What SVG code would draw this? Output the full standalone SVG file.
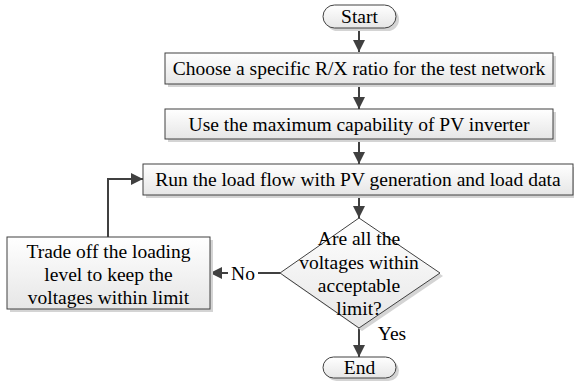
<svg xmlns="http://www.w3.org/2000/svg" width="574" height="384" viewBox="0 0 574 384" font-family="Liberation Serif, Times New Roman, DejaVu Serif, serif">
<defs>
<linearGradient id="g" x1="0" y1="0" x2="0" y2="1">
<stop offset="0" stop-color="#ffffff"/>
<stop offset="1" stop-color="#e6e6e6"/>
</linearGradient>
<marker id="ah" viewBox="0 0 10 10" refX="10" refY="5" markerWidth="6" markerHeight="6" orient="auto" markerUnits="strokeWidth">
<path d="M0,0 L10,5 L0,10 z" fill="#404040"/>
</marker>
</defs>
<style>
.n{fill:url(#g);stroke:#404040;stroke-width:1}
.s{fill:#d4d4d4;stroke:none}
.t{font-size:19.5px;fill:#000;text-anchor:middle;dominant-baseline:central}
.c{fill:none;stroke:#404040;stroke-width:2}
.a{marker-end:url(#ah)}
</style>
<rect width="574" height="384" fill="#fff"/>
<g id="connectors">
<line class="c a" x1="359" y1="28" x2="359" y2="52"/>
<line class="c a" x1="359" y1="84" x2="359" y2="109"/>
<line class="c a" x1="359" y1="140" x2="359" y2="164"/>
<line class="c a" x1="359" y1="196" x2="359" y2="218"/>
<line class="c a" x1="359" y1="328" x2="359" y2="357"/>
<line class="c" x1="280" y1="273" x2="258" y2="273"/>
<line class="c a" x1="228" y1="273" x2="210" y2="273"/>
<polyline class="c a" points="108,237 108,179 143,179"/>
<text class="t" x="243" y="273">No</text>
<text class="t" x="392" y="333">Yes</text>
</g>
<g id="start">
<rect class="s" x="326" y="8" width="73" height="23" rx="11.5"/>
<rect class="n" x="323" y="5" width="73" height="23" rx="11.5"/>
<text class="t" x="359.5" y="16.5">Start</text>
</g>
<g id="choose">
<rect class="s" x="168" y="56" width="388" height="31"/>
<rect class="n" x="165" y="53" width="388" height="31"/>
<text class="t" x="359" y="68.5">Choose a specific R/X ratio for the test network</text>
</g>
<g id="use">
<rect class="s" x="168" y="112" width="388" height="30"/>
<rect class="n" x="165" y="109" width="388" height="30"/>
<text class="t" x="359" y="124">Use the maximum capability of PV inverter</text>
</g>
<g id="run">
<rect class="s" x="146" y="167" width="431" height="31"/>
<rect class="n" x="143" y="164" width="430" height="31"/>
<text class="t" x="358" y="179.5">Run the load flow with PV generation and load data</text>
</g>
<g id="decision">
<polygon class="s" points="362,221 443,276 362,331 283,276"/>
<polygon class="n" points="359,218 440,273 359,328 280,273"/>
<text class="t" x="359" y="238">Are all the</text>
<text class="t" x="359" y="262">voltages within</text>
<text class="t" x="359" y="285">acceptable</text>
<text class="t" x="359" y="308">limit?</text>
</g>
<g id="tradeoff">
<rect class="s" x="10" y="240" width="203" height="72"/>
<rect class="n" x="7" y="237" width="203" height="72"/>
<text class="t" x="108.5" y="251">Trade off the loading</text>
<text class="t" x="108.5" y="274">level to keep the</text>
<text class="t" x="108.5" y="297">voltages within limit</text>
</g>
<g id="end">
<rect class="s" x="326" y="360" width="73" height="21" rx="10.5"/>
<rect class="n" x="323" y="357" width="73" height="21" rx="10.5"/>
<text class="t" x="359.5" y="367.5">End</text>
</g>
</svg>
